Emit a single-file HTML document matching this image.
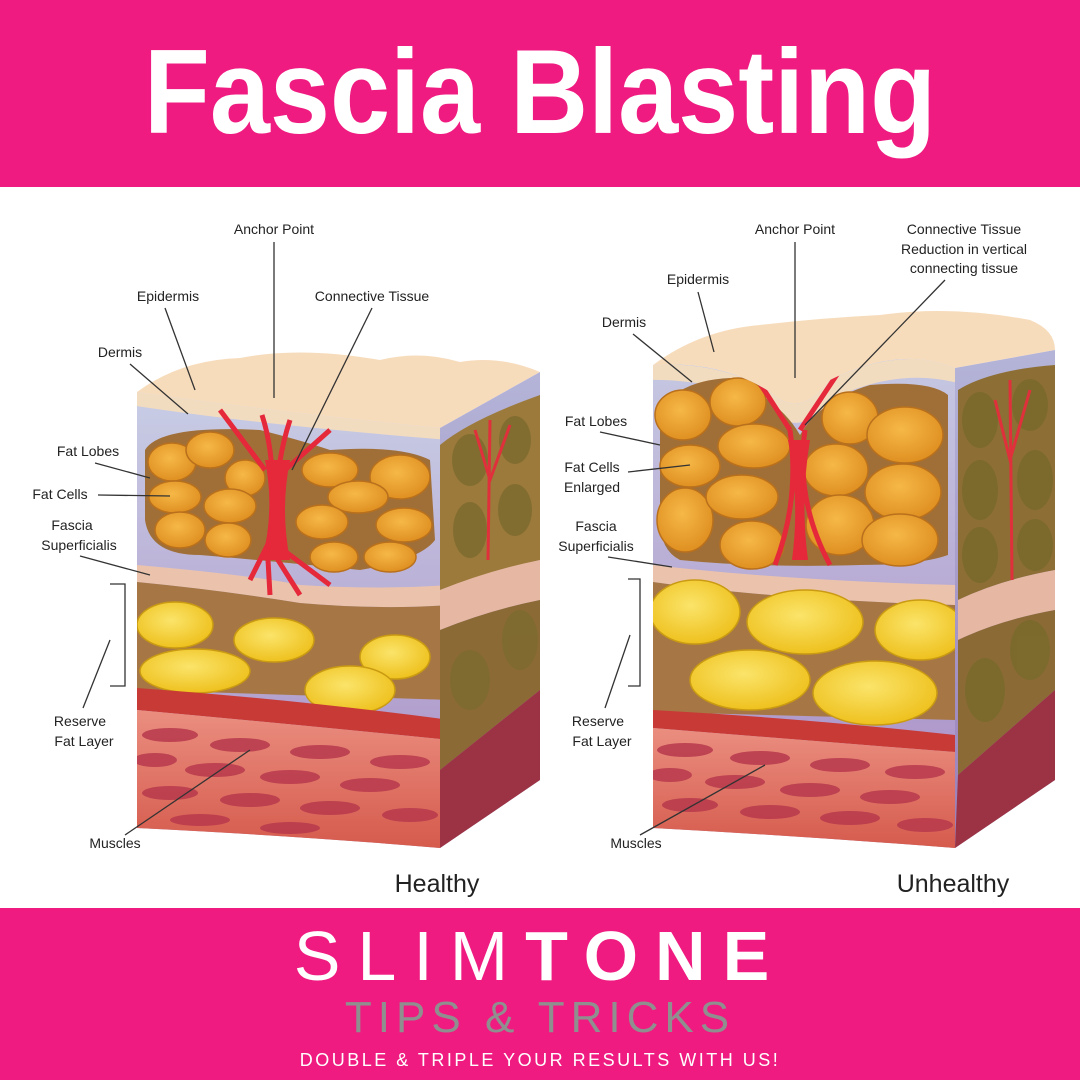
<!DOCTYPE html>
<html><head><meta charset="utf-8"><style>
html,body{margin:0;padding:0;width:1080px;height:1080px;overflow:hidden;background:#fff}
svg{display:block}
.l{font-family:"Liberation Sans",sans-serif;font-size:14px;fill:#222}
.ln{stroke:#333;stroke-width:1.3;fill:none}
</style></head><body>
<svg width="1080" height="1080" viewBox="0 0 1080 1080">
<defs>
<linearGradient id="derm" x1="0" y1="0" x2="0" y2="1"><stop offset="0" stop-color="#c9cfe6"/><stop offset="1" stop-color="#a98cc4"/></linearGradient>
<linearGradient id="side" x1="0" y1="0" x2="0" y2="1"><stop offset="0" stop-color="#b4b4d8"/><stop offset="1" stop-color="#9a7fb8"/></linearGradient>
<radialGradient id="of" cx="0.45" cy="0.4" r="0.6"><stop offset="0" stop-color="#f6b847"/><stop offset="1" stop-color="#df9021"/></radialGradient>
<radialGradient id="yf" cx="0.45" cy="0.4" r="0.6"><stop offset="0" stop-color="#fbe46a"/><stop offset="1" stop-color="#eec11e"/></radialGradient>
<linearGradient id="mus" x1="0" y1="0" x2="0" y2="1"><stop offset="0" stop-color="#ea8e80"/><stop offset="1" stop-color="#d55a4c"/></linearGradient>
<clipPath id="cL"><path d="M137 392 Q260 410 440 428 L440 848 Q300 836 137 828 Z"/></clipPath>
<clipPath id="cR"><path d="M653 365 Q720 360 770 392 Q800 420 830 380 Q900 345 955 368 L955 848 Q800 836 653 828 Z"/></clipPath>
</defs>
<rect x="0" y="0" width="1080" height="187" fill="#ef1b80"/>
<text x="0" y="133" text-anchor="middle" transform="translate(540 0) scale(0.9 1)" font-family="Liberation Sans, sans-serif" font-weight="bold" font-size="120" fill="#fff">Fascia Blasting</text>

<path d="M137 392 Q180 360 240 358 Q300 346 380 360 Q420 350 460 362 Q500 355 540 372 L440 428 Q260 410 137 392 Z" fill="#f7dcbc"/>
<path d="M440 428 L540 372 L540 780 L440 848 Z" fill="url(#side)"/>
<path d="M440 445 Q470 420 540 395 L540 560 Q480 575 440 590 Z" fill="#9b7a3b"/>
<path d="M440 590 Q490 570 540 560 L540 600 Q490 610 440 630 Z" fill="#e6b7a3"/>
<path d="M440 630 Q490 610 540 600 L540 690 L440 770 Z" fill="#8c6a35"/>
<path d="M440 770 L540 690 L540 780 L440 848 Z" fill="#9c3345"/>
<g fill="#7d6a2e" opacity=".8"><ellipse cx="470" cy="460" rx="18" ry="26"/><ellipse cx="515" cy="440" rx="16" ry="24"/><ellipse cx="470" cy="530" rx="17" ry="28"/><ellipse cx="515" cy="510" rx="17" ry="26"/><ellipse cx="470" cy="680" rx="20" ry="30"/><ellipse cx="520" cy="640" rx="18" ry="30"/></g>
<path d="M490 420 L488 560 M475 430 L490 480 L510 425" stroke="#e0303c" stroke-width="3" fill="none"/>
<g clip-path="url(#cL)">
<rect x="130" y="380" width="320" height="470" fill="url(#derm)"/>
<path d="M130 385 Q260 405 450 425 L450 440 Q260 425 130 405 Z" fill="#f2dcc0"/>
<path d="M145 450 Q160 425 260 430 Q300 440 330 450 Q400 445 430 460 L435 540 Q420 560 360 570 Q260 560 200 555 Q150 555 145 520 Z" fill="#a06f38"/>
<g fill="url(#of)" stroke="#b9701c" stroke-width="1.5">
<ellipse cx="172" cy="462" rx="24" ry="19"/><ellipse cx="210" cy="450" rx="24" ry="18"/><ellipse cx="245" cy="478" rx="20" ry="18"/><ellipse cx="175" cy="497" rx="26" ry="16"/><ellipse cx="230" cy="506" rx="26" ry="17"/><ellipse cx="180" cy="530" rx="25" ry="18"/><ellipse cx="228" cy="540" rx="23" ry="17"/>
<ellipse cx="330" cy="470" rx="28" ry="17"/><ellipse cx="400" cy="477" rx="30" ry="22"/><ellipse cx="358" cy="497" rx="30" ry="16"/><ellipse cx="322" cy="522" rx="26" ry="17"/><ellipse cx="404" cy="525" rx="28" ry="17"/><ellipse cx="334" cy="557" rx="24" ry="15"/><ellipse cx="390" cy="557" rx="26" ry="15"/>
</g>
<path d="M137 565 Q250 575 300 585 Q380 590 450 585 L450 605 Q380 610 300 603 Q220 590 137 582 Z" fill="#ebc3ad"/>
<path d="M137 582 Q220 590 300 603 Q380 610 450 605 L450 700 L137 690 Z" fill="#a67745"/>
<g fill="url(#yf)" stroke="#c99a12" stroke-width="1.5">
<ellipse cx="175" cy="625" rx="38" ry="23"/><ellipse cx="274" cy="640" rx="40" ry="22"/><ellipse cx="195" cy="671" rx="55" ry="22"/><ellipse cx="395" cy="657" rx="35" ry="22"/><ellipse cx="350" cy="690" rx="45" ry="24"/>
</g>
<path d="M137 688 Q300 700 450 720 L450 740 Q300 725 137 710 Z" fill="#c83a35"/>
<path d="M137 710 Q300 725 450 740 L450 850 L137 850 Z" fill="url(#mus)"/>
<g fill="#b8394d" opacity=".85">
<ellipse cx="170" cy="735" rx="28" ry="7"/><ellipse cx="240" cy="745" rx="30" ry="7"/><ellipse cx="320" cy="752" rx="30" ry="7"/><ellipse cx="400" cy="762" rx="30" ry="7"/>
<ellipse cx="155" cy="760" rx="22" ry="7"/><ellipse cx="215" cy="770" rx="30" ry="7"/><ellipse cx="290" cy="777" rx="30" ry="7"/><ellipse cx="370" cy="785" rx="30" ry="7"/>
<ellipse cx="170" cy="793" rx="28" ry="7"/><ellipse cx="250" cy="800" rx="30" ry="7"/><ellipse cx="330" cy="808" rx="30" ry="7"/><ellipse cx="410" cy="815" rx="28" ry="7"/>
<ellipse cx="200" cy="820" rx="30" ry="6"/><ellipse cx="290" cy="828" rx="30" ry="6"/>
</g>
<path d="M262 415 Q280 470 268 560 L270 595 M290 420 Q270 480 278 560 L300 595 M220 410 L265 470 M330 430 L285 470 M250 580 L270 540 L330 585" stroke="#e5283a" stroke-width="5" fill="none"/>
<path d="M265 460 Q275 510 262 560 L290 560 Q280 510 290 460 Z" fill="#e5283a"/>
</g>

<path d="M653 365 Q700 330 760 325 Q820 318 880 315 Q950 305 1030 320 Q1055 330 1055 350 L955 368 Q900 345 830 380 Q800 420 770 392 Q720 360 653 365 Z" fill="#f7dcbc"/>
<path d="M955 368 L1055 350 L1055 780 L955 848 Z" fill="url(#side)"/>
<path d="M958 390 Q990 370 1055 365 L1055 570 Q1000 580 958 600 Z" fill="#8d6e34"/>
<path d="M958 600 Q1000 580 1055 570 L1055 610 Q1000 620 958 640 Z" fill="#e6b7a3"/>
<path d="M958 640 Q1000 620 1055 610 L1055 690 L958 775 Z" fill="#8c6a35"/>
<path d="M958 775 L1055 690 L1055 780 L955 848 Z" fill="#9c3345"/>
<g fill="#7a6a2c" opacity=".85"><ellipse cx="980" cy="420" rx="18" ry="28"/><ellipse cx="1030" cy="405" rx="18" ry="26"/><ellipse cx="980" cy="490" rx="18" ry="30"/><ellipse cx="1035" cy="480" rx="18" ry="30"/><ellipse cx="980" cy="555" rx="18" ry="28"/><ellipse cx="1035" cy="545" rx="18" ry="26"/><ellipse cx="985" cy="690" rx="20" ry="32"/><ellipse cx="1030" cy="650" rx="20" ry="30"/></g>
<path d="M1010 380 L1012 580 M995 400 L1010 460 L1030 390" stroke="#e0303c" stroke-width="3" fill="none"/>
<g clip-path="url(#cR)">
<rect x="645" y="300" width="320" height="550" fill="url(#derm)"/>
<path d="M645 365 Q720 360 770 392 Q800 420 830 380 Q900 345 965 368 L965 385 Q900 365 830 400 Q800 440 770 410 Q720 378 645 380 Z" fill="#f2dcc0"/>
<path d="M660 410 Q680 380 730 378 Q780 400 800 435 Q820 400 870 385 Q930 380 948 395 L948 555 Q920 565 860 565 Q760 568 680 560 Q660 550 660 520 Z" fill="#a06f38"/>
<g fill="url(#of)" stroke="#b9701c" stroke-width="1.5">
<ellipse cx="683" cy="415" rx="28" ry="25"/><ellipse cx="738" cy="402" rx="28" ry="24"/><ellipse cx="690" cy="466" rx="30" ry="21"/><ellipse cx="754" cy="446" rx="36" ry="22"/><ellipse cx="685" cy="520" rx="28" ry="32"/><ellipse cx="742" cy="497" rx="36" ry="22"/><ellipse cx="752" cy="545" rx="32" ry="24"/>
<ellipse cx="850" cy="418" rx="28" ry="26"/><ellipse cx="905" cy="435" rx="38" ry="28"/><ellipse cx="836" cy="470" rx="32" ry="26"/><ellipse cx="903" cy="492" rx="38" ry="28"/><ellipse cx="840" cy="525" rx="34" ry="30"/><ellipse cx="900" cy="540" rx="38" ry="26"/>
</g>
<path d="M653 565 Q780 580 955 585 L955 605 Q780 600 653 582 Z" fill="#ebc3ad"/>
<path d="M653 582 Q780 600 955 605 L955 720 L653 712 Z" fill="#a67745"/>
<g fill="url(#yf)" stroke="#c99a12" stroke-width="1.5">
<ellipse cx="695" cy="612" rx="45" ry="32"/><ellipse cx="805" cy="622" rx="58" ry="32"/><ellipse cx="920" cy="630" rx="45" ry="30"/><ellipse cx="750" cy="680" rx="60" ry="30"/><ellipse cx="875" cy="693" rx="62" ry="32"/>
</g>
<path d="M653 710 Q800 718 955 735 L955 752 Q800 740 653 728 Z" fill="#c83a35"/>
<path d="M653 728 Q800 740 955 752 L955 850 L653 850 Z" fill="url(#mus)"/>
<g fill="#b8394d" opacity=".85">
<ellipse cx="685" cy="750" rx="28" ry="7"/><ellipse cx="760" cy="758" rx="30" ry="7"/><ellipse cx="840" cy="765" rx="30" ry="7"/><ellipse cx="915" cy="772" rx="30" ry="7"/>
<ellipse cx="670" cy="775" rx="22" ry="7"/><ellipse cx="735" cy="782" rx="30" ry="7"/><ellipse cx="810" cy="790" rx="30" ry="7"/><ellipse cx="890" cy="797" rx="30" ry="7"/>
<ellipse cx="690" cy="805" rx="28" ry="7"/><ellipse cx="770" cy="812" rx="30" ry="7"/><ellipse cx="850" cy="818" rx="30" ry="7"/><ellipse cx="925" cy="825" rx="28" ry="7"/>
</g>
<path d="M748 365 L790 430 M840 370 L800 430 M790 430 Q800 500 775 565 M805 430 Q795 500 830 565" stroke="#e5283a" stroke-width="5" fill="none"/>
<path d="M788 440 Q800 500 792 560 L808 560 Q800 500 810 440 Z" fill="#e5283a"/>
</g>

<g class="l">
<text x="274" y="234" text-anchor="middle">Anchor Point</text>
<text x="168" y="301" text-anchor="middle">Epidermis</text>
<text x="372" y="301" text-anchor="middle">Connective Tissue</text>
<text x="120" y="357" text-anchor="middle">Dermis</text>
<text x="88" y="456" text-anchor="middle">Fat Lobes</text>
<text x="60" y="499" text-anchor="middle">Fat Cells</text>
<text x="72" y="530" text-anchor="middle">Fascia</text>
<text x="79" y="550" text-anchor="middle">Superficialis</text>
<text x="80" y="726" text-anchor="middle">Reserve</text>
<text x="84" y="746" text-anchor="middle">Fat Layer</text>
<text x="115" y="848" text-anchor="middle">Muscles</text>
</g>
<g class="ln">
<path d="M274 242 L274 398"/><path d="M165 308 L195 390"/><path d="M372 308 L292 470"/><path d="M130 364 L188 414"/>
<path d="M95 463 L150 478"/><path d="M98 495 L170 496"/><path d="M80 556 L150 575"/>
<path d="M110 584 L125 584 L125 686 L110 686"/><path d="M83 708 L110 640"/><path d="M125 835 L250 750"/>
</g>
<text x="437" y="892" text-anchor="middle" font-family="Liberation Sans, sans-serif" font-size="25" fill="#222">Healthy</text>

<g class="l">
<text x="795" y="234" text-anchor="middle">Anchor Point</text>
<text x="964" y="234" text-anchor="middle">Connective Tissue</text>
<text x="964" y="254" text-anchor="middle">Reduction in vertical</text>
<text x="964" y="273" text-anchor="middle">connecting tissue</text>
<text x="698" y="284" text-anchor="middle">Epidermis</text>
<text x="624" y="327" text-anchor="middle">Dermis</text>
<text x="596" y="426" text-anchor="middle">Fat Lobes</text>
<text x="592" y="472" text-anchor="middle">Fat Cells</text>
<text x="592" y="492" text-anchor="middle">Enlarged</text>
<text x="596" y="531" text-anchor="middle">Fascia</text>
<text x="596" y="551" text-anchor="middle">Superficialis</text>
<text x="598" y="726" text-anchor="middle">Reserve</text>
<text x="602" y="746" text-anchor="middle">Fat Layer</text>
<text x="636" y="848" text-anchor="middle">Muscles</text>
</g>
<g class="ln">
<path d="M795 242 L795 378"/><path d="M698 292 L714 352"/><path d="M945 280 L805 425"/><path d="M633 334 L692 382"/>
<path d="M600 432 L660 445"/><path d="M628 472 L690 465"/><path d="M608 557 L672 567"/>
<path d="M628 579 L640 579 L640 686 L628 686"/><path d="M605 708 L630 635"/><path d="M640 835 L765 765"/>
</g>
<text x="953" y="892" text-anchor="middle" font-family="Liberation Sans, sans-serif" font-size="25" fill="#222">Unhealthy</text>

<rect x="0" y="908" width="1080" height="172" fill="#ef1b80"/>
<text x="540" y="980" text-anchor="middle" font-family="Liberation Sans, sans-serif" font-size="70" fill="#fff" letter-spacing="17"><tspan>SLIM</tspan><tspan font-weight="bold">TONE</tspan></text>
<text x="540" y="1032" text-anchor="middle" font-family="Liberation Sans, sans-serif" font-size="44" fill="#8f8f8f" letter-spacing="6">TIPS &amp; TRICKS</text>
<text x="540" y="1066" text-anchor="middle" font-family="Liberation Sans, sans-serif" font-size="18" fill="#fff" letter-spacing="2.5">DOUBLE &amp; TRIPLE YOUR RESULTS WITH US!</text>
</svg>
</body></html>
